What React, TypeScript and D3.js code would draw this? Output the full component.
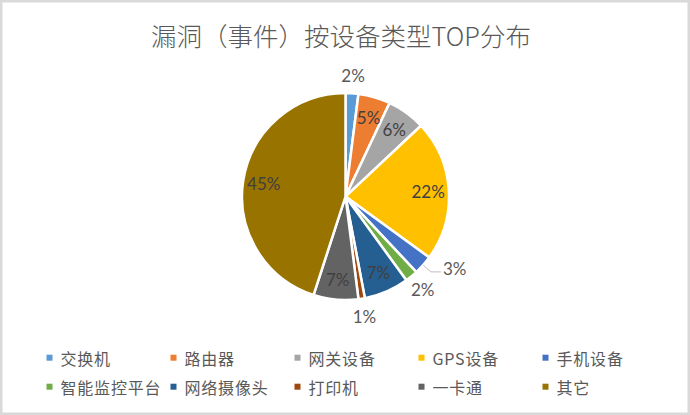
import React from "react";
import * as d3 from "d3";

const title = "漏洞（事件）按设备类型TOP分布";
const categories = ["交换机", "路由器", "网关设备", "GPS设备", "手机设备", "智能监控平台", "网络摄像头", "打印机", "一卡通", "其它"];
const values = [2, 5, 6, 22, 3, 2, 7, 1, 7, 45];
const colors = ["#5B9BD5", "#ED7D31", "#A5A5A5", "#FFC000", "#4472C4", "#70AD47", "#255E91", "#9E480E", "#636363", "#997300"];
const leaderLabelCategories = ["手机设备"];

const W = 690;
const H = 415;

export default function App() {
  const cx = 345.5;
  const cy = 196.6;
  const r = 103.5;

  const pie = d3.pie<number>().sort(null).value((d) => d).startAngle(0).endAngle(2 * Math.PI);
  const arcs = pie(values);
  const arc = d3.arc<d3.PieArcDatum<number>>().innerRadius(0).outerRadius(r);
  const pt = (a: number, rad: number) => [Math.sin(a) * rad, -Math.cos(a) * rad];

  const legendX = d3.scaleLinear().domain([0, 1]).range([46.5, 46.5 + 124]);
  const legendY = d3.scaleLinear().domain([0, 1]).range([357.7, 357.7 + 29]);

  const cjk = "'Noto Sans CJK SC', 'Noto Sans', sans-serif";
  const num = "Lato, 'Noto Sans', sans-serif";

  return (
    <div style={{ position: "absolute", left: 0, top: 0 }}>
      <svg width={W} height={H} viewBox={`0 0 ${W} ${H}`} style={{ display: "block" }}>
        <rect x={0} y={0} width={W} height={H} fill="#ffffff" />
        <rect x={1.25} y={1.25} width={W - 2.5} height={H - 2.5} fill="none" stroke="#D9D9D9" strokeWidth={2.5} />
        <text x={341} y={46} textAnchor="middle" fontFamily={cjk} fontWeight={300} fontSize={25.5} fill="#595959">
          {title}
        </text>
        <g transform={`translate(${cx},${cy})`}>
          {arcs.map((a, i) => (
            <path key={i} d={arc(a) || ""} fill={colors[i]} stroke="#ffffff" strokeWidth={2.5} strokeLinejoin="round" />
          ))}
          {arcs.map((a, i) => {
            const mid = (a.startAngle + a.endAngle) / 2;
            const label = `${values[i]}%`;
            if (leaderLabelCategories.includes(categories[i])) {
              const [x0, y0] = pt(mid, r);
              const [x1, y1] = pt(mid, r * 1.1);
              const x2 = x1 + 10;
              return (
                <g key={"l" + i}>
                  <polyline points={`${x0},${y0} ${x1},${y1} ${x2},${y1}`} fill="none" stroke="#BFBFBF" strokeWidth={1} />
                  <text x={x2 + 2} y={y1 - 3} dominantBaseline="central" fontFamily={num} fontSize={17} fill="#595959">
                    {label}
                  </text>
                </g>
              );
            }
            const inside = values[i] >= 5;
            const [x, y] = pt(mid, inside ? r * 0.8 : r * 1.17);
            return (
              <text key={"l" + i} x={x} y={y} textAnchor="middle" dominantBaseline="central" fontFamily={num} fontSize={17} fill={inside ? "#404040" : "#595959"}>
                {label}
              </text>
            );
          })}
        </g>
        <g>
          {categories.map((c, i) => {
            const col = i % 5;
            const row = Math.floor(i / 5);
            const x = legendX(col);
            const y = legendY(row);
            return (
              <g key={"lg" + i}>
                <rect x={x} y={y - 3} width={6} height={6} fill={colors[i]} />
                <text x={x + 14} y={y} dominantBaseline="central" fontFamily={cjk} fontSize={16} letterSpacing={0.8} fill="#595959">
                  {c}
                </text>
              </g>
            );
          })}
        </g>
      </svg>
    </div>
  );
}
